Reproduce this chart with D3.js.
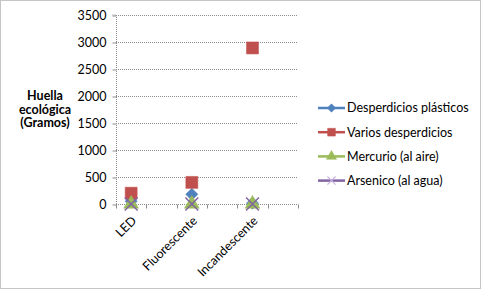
<!DOCTYPE html>
<html>
<head>
  <meta charset="utf-8">
  <style>
    body { margin: 0; background: #fff; }
    text { font-family: Lato, "Open Sans", sans-serif; fill: #000; }
  </style>
  <script src="https://d3js.org/d3.v7.min.js"></script>
</head>
<body>
  <div id="chart"></div>
  <script>
    // six slots on the x axis, only every other one is labelled
    const categories = ['LED', '', 'Fluorescente', '', 'Incandescente', ''];
    const seriesNames = ['Desperdicios plásticos', 'Varios desperdicios', 'Mercurio (al aire)', 'Arsenico (al agua)'];
    const plasticos = [50, null, 180, null, 15, null];
    const varios = [200, null, 400, null, 2890, null];
    const mercurio = [0, null, 0, null, 0, null];
    const arsenico = [0, null, 0, null, 0, null];
    const yTicks = [0, 500, 1000, 1500, 2000, 2500, 3000, 3500];

    const colors = ['#4F81BD', '#C0504D', '#9BBB59', '#8064A2'];
    const shapes = [d3.symbolDiamond2, d3.symbolSquare, d3.symbolTriangle, d3.symbolX];
    const allSeries = [plasticos, varios, mercurio, arsenico];

    const W = 481, H = 289;
    const margin = { top: 15, left: 116, right: 183, bottom: 85 };
    const width = W - margin.left - margin.right;
    const height = H - margin.top - margin.bottom;

    const svg = d3.select('#chart').append('svg')
      .attr('width', W)
      .attr('height', H);

    svg.append('rect')
      .attr('x', 0.5).attr('y', 0.5)
      .attr('width', W - 1).attr('height', H - 1)
      .attr('fill', '#fff')
      .attr('stroke', '#8a8a8a')
      .attr('stroke-dasharray', '1,1');

    const g = svg.append('g')
      .attr('transform', `translate(${margin.left},${margin.top})`);

    const x = d3.scaleBand()
      .domain(d3.range(categories.length))
      .range([0, width]);

    const y = d3.scaleLinear()
      .domain([0, 3500])
      .range([height, 0]);

    // gridlines
    g.append('g')
      .selectAll('line')
      .data(yTicks.filter(d => d > 0))
      .enter().append('line')
        .attr('x1', 0).attr('x2', width)
        .attr('y1', d => Math.round(y(d)) + 0.5)
        .attr('y2', d => Math.round(y(d)) + 0.5)
        .attr('stroke', '#8c8c8c')
        .attr('stroke-dasharray', '1,1');

    // y axis
    const yAxis = g.append('g')
      .attr('transform', 'translate(0.5,0)')
      .call(d3.axisLeft(y).tickValues(yTicks).tickFormat(d3.format('d')).tickSize(4).tickPadding(6));
    yAxis.select('.domain').attr('stroke', '#8c8c8c').attr('stroke-dasharray', '1,1').attr('d', `M-4,${y(3500)}H0V${height}`);
    yAxis.selectAll('.tick line').attr('stroke', '#8c8c8c').attr('transform', 'translate(0,0.5)');
    yAxis.selectAll('.tick text').style('font-size', '12.5px').style('font-family', 'Lato, sans-serif').attr('dy', '0.35em');

    // x axis
    const xAxis = g.append('g')
      .attr('transform', `translate(0,${Math.round(height) + 0.5})`);
    xAxis.append('line')
      .attr('x1', 0).attr('x2', width)
      .attr('stroke', '#8c8c8c')
      .attr('stroke-dasharray', '1,1');
    xAxis.selectAll('.xt')
      .data(d3.range(categories.length + 1))
      .enter().append('line')
        .attr('class', 'xt')
        .attr('x1', i => Math.round(i * x.step()) + 0.5)
        .attr('x2', i => Math.round(i * x.step()) + 0.5)
        .attr('y1', 0).attr('y2', 4)
        .attr('stroke', '#8c8c8c');
    xAxis.selectAll('.xl')
      .data(categories.map((c, i) => [c, i]).filter(d => d[0]))
      .enter().append('text')
        .attr('class', 'xl')
        .attr('text-anchor', 'end')
        .attr('transform', d => `translate(${x(d[1]) + x.bandwidth() / 2 + 6},${17}) rotate(-45)`)
        .style('font-size', '12.5px')
        .text(d => d[0]);

    // markers
    allSeries.forEach((vals, s) => {
      g.append('g')
        .selectAll('path')
        .data(vals.map((v, i) => [v, i]).filter(d => d[0] !== null))
        .enter().append('path')
          .attr('transform', d => `translate(${x(d[1]) + x.bandwidth() / 2},${y(d[0])})`)
          .attr('d', d3.symbol().type(shapes[s]).size(s === 1 ? 144 : s === 3 ? 110 : 95))
          .attr('fill', s === 3 ? 'none' : colors[s])
          .attr('stroke', colors[s])
          .attr('stroke-width', s === 3 ? 1.5 : 0.5);
    });

    // y axis title
    svg.append('text')
      .attr('x', 45).attr('y', 100)
      .attr('text-anchor', 'middle')
      .style('font-size', '12.5px')
      .style('font-weight', 'bold')
      .selectAll('tspan')
      .data(['Huella', 'ecológica', '(Gramos)'])
      .enter().append('tspan')
        .attr('x', 45)
        .attr('dy', (d, i) => i === 0 ? 0 : 13.5)
        .text(d => d);

    // legend
    const legend = svg.append('g')
      .attr('transform', 'translate(318,108)');
    const item = legend.selectAll('g')
      .data(seriesNames)
      .enter().append('g')
        .attr('transform', (d, i) => `translate(0,${i * 24.2})`);
    item.append('line')
      .attr('x1', 0).attr('x2', 27)
      .attr('stroke', (d, i) => colors[i])
      .attr('stroke-width', 2.5);
    item.append('path')
      .attr('transform', 'translate(13.5,0)')
      .attr('d', (d, i) => d3.symbol().type(shapes[i]).size(i === 1 ? 60 : 45)())
      .attr('fill', (d, i) => i === 3 ? 'none' : colors[i])
      .attr('stroke', (d, i) => i === 3 ? '#c9b3e0' : colors[i])
      .attr('stroke-width', (d, i) => i === 3 ? 1.2 : 0.5);
    item.append('text')
      .attr('x', 29)
      .attr('dy', '0.35em')
      .style('font-size', '12.5px')
      .text(d => d);
  </script>
</body>
</html>
